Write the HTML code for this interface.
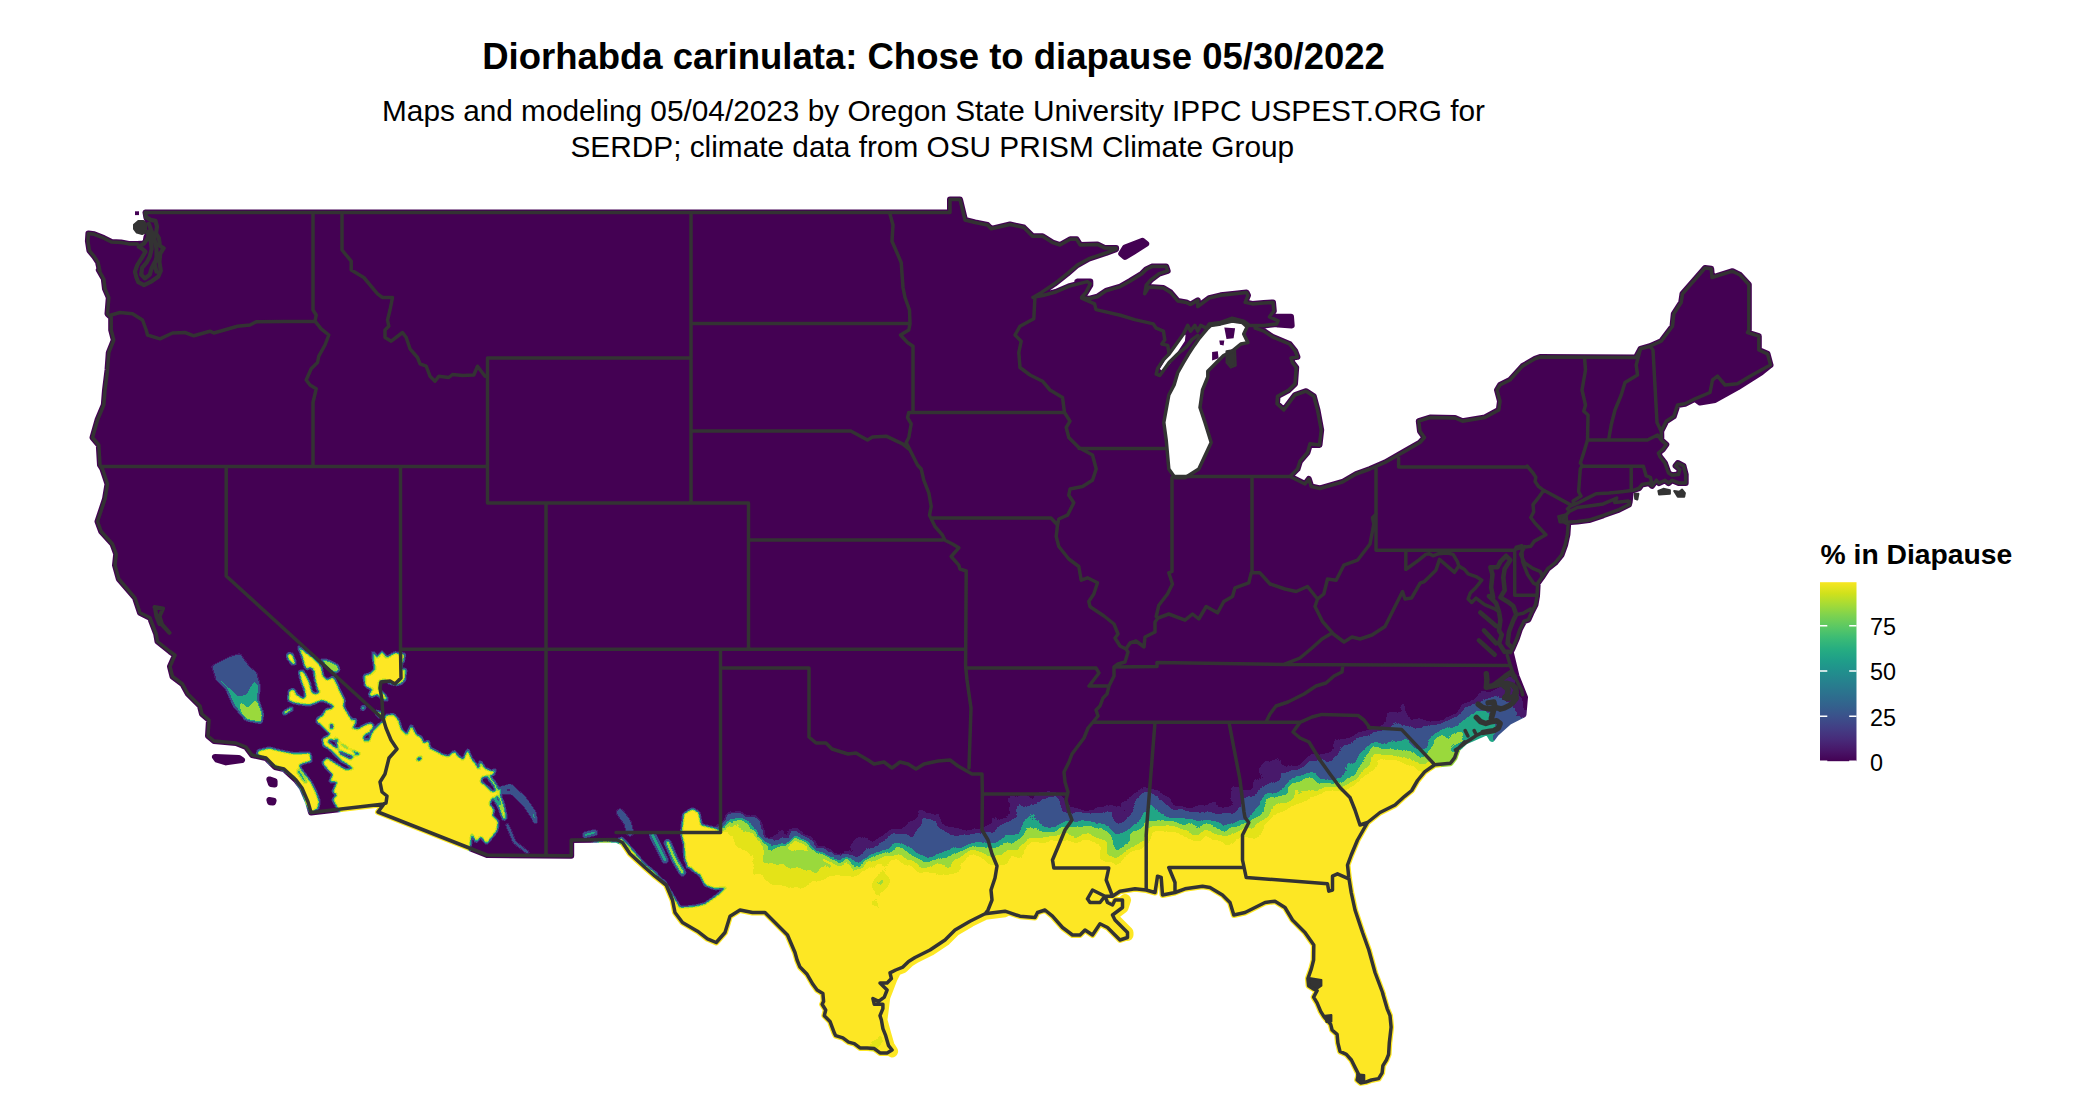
<!DOCTYPE html>
<html><head><meta charset="utf-8"><title>Diorhabda carinulata: Chose to diapause 05/30/2022</title>
<style>
html,body{margin:0;padding:0;background:#fff;}
body{width:2100px;height:1116px;overflow:hidden;font-family:"Liberation Sans",Arial,Helvetica,sans-serif;}
svg{display:block;}
text{font-family:"Liberation Sans",Arial,Helvetica,sans-serif;fill:#000;}
</style></head><body>
<svg width="2100" height="1116" viewBox="0 0 2100 1116">
<defs>
<filter id="cm" x="0" y="0" width="2100" height="1116" filterUnits="userSpaceOnUse" color-interpolation-filters="sRGB">
<feComponentTransfer><feFuncR type="discrete" tableValues="0.267 0.267 0.283 0.283 0.283 0.283 0.230 0.230 0.230 0.230 0.230 0.230 0.230 0.230 0.230 0.230 0.230 0.230 0.230 0.230 0.230 0.130 0.130 0.130 0.130 0.130 0.130 0.130 0.130 0.130 0.130 0.606 0.606 0.606 0.606 0.606 0.606 0.606 0.606 0.606 0.606 0.896 0.896 0.896 0.896 0.896 0.896 0.993 0.993 0.993"/><feFuncG type="discrete" tableValues="0.005 0.005 0.100 0.100 0.100 0.100 0.322 0.322 0.322 0.322 0.322 0.322 0.322 0.322 0.322 0.322 0.322 0.322 0.322 0.322 0.322 0.651 0.651 0.651 0.651 0.651 0.651 0.651 0.651 0.651 0.651 0.851 0.851 0.851 0.851 0.851 0.851 0.851 0.851 0.851 0.851 0.894 0.894 0.894 0.894 0.894 0.894 0.906 0.906 0.906"/><feFuncB type="discrete" tableValues="0.329 0.329 0.422 0.422 0.422 0.422 0.546 0.546 0.546 0.546 0.546 0.546 0.546 0.546 0.546 0.546 0.546 0.546 0.546 0.546 0.546 0.522 0.522 0.522 0.522 0.522 0.522 0.522 0.522 0.522 0.522 0.237 0.237 0.237 0.237 0.237 0.237 0.237 0.237 0.237 0.237 0.096 0.096 0.096 0.096 0.096 0.096 0.144 0.144 0.144"/></feComponentTransfer>
</filter>
<filter id="b1" x="0" y="0" width="2100" height="1116" filterUnits="userSpaceOnUse" color-interpolation-filters="sRGB">
<feGaussianBlur stdDeviation="14" result="b"/>
<feTurbulence type="fractalNoise" baseFrequency="0.022" numOctaves="3" seed="7" result="n"/>
<feDisplacementMap in="b" in2="n" scale="46" xChannelSelector="R" yChannelSelector="G"/>
</filter>
<filter id="b1w" x="0" y="0" width="2100" height="1116" filterUnits="userSpaceOnUse" color-interpolation-filters="sRGB">
<feGaussianBlur stdDeviation="5" result="b"/>
<feTurbulence type="fractalNoise" baseFrequency="0.03" numOctaves="3" seed="11" result="n"/>
<feDisplacementMap in="b" in2="n" scale="26" xChannelSelector="R" yChannelSelector="G"/>
</filter>
<filter id="b2" x="0" y="0" width="2100" height="1116" filterUnits="userSpaceOnUse" color-interpolation-filters="sRGB">
<feGaussianBlur stdDeviation="1.3"/>
</filter>
<filter id="b3" x="0" y="0" width="2100" height="1116" filterUnits="userSpaceOnUse" color-interpolation-filters="sRGB">
<feGaussianBlur stdDeviation="8"/>
</filter>
<mask id="m" maskUnits="userSpaceOnUse" x="0" y="0" width="2100" height="1116">
<path d="M145.5,212.5 L950,212.5 L950,199.5 L960,199.5 L965,220 L975,222.5 L987.5,225 L991.2,228.8 L1010,224.5 L1023.8,227.5 L1032.5,236.2 L1042.5,236.2 L1052.5,242.5 L1060,245 L1070.2,239.3 L1076.6,239.3 L1080.2,245.1 L1097.4,244.4 L1104.6,247.9 L1116.1,247.9 L1116.1,249.1 L1106,253 L1088.8,258.7 L1077.3,265.1 L1067.3,273.7 L1054.4,283.8 L1041.5,292.4 L1032.9,297.4 L1042.9,295.5 L1055.8,292 L1068.7,286.4 L1077.3,284.1 L1087.4,281.6 L1090.3,283.8 L1085.9,292.4 L1081.6,297.1 L1088.8,298.8 L1097.4,296.7 L1106,290.9 L1120.4,286.6 L1130.4,280.9 L1141.9,273.7 L1146.2,269.4 L1151.9,266.6 L1166.2,266.6 L1167.7,270.9 L1159.1,273.7 L1150.5,280.2 L1146.2,285.2 L1144.7,293.8 L1149,286.9 L1163.4,288.1 L1170.5,292.4 L1177.7,301 L1186.3,302.4 L1190.6,304.6 L1197.8,300.3 L1197.8,306.7 L1209.2,298.1 L1220.7,295.3 L1235.1,293.8 L1246.5,292.4 L1248,295.3 L1245.1,302.4 L1252.3,303.9 L1263.7,303.1 L1273,302.4 L1273.8,311 L1269.5,316.8 L1278.1,320.8 L1276.6,323.9 L1263.7,325.4 L1255.1,325.4 L1255.1,328.2 L1263.7,331.1 L1272.3,336.8 L1289.5,344 L1295.3,351.2 L1297.4,356.9 L1291,357.9 L1292.4,362.6 L1296.2,367.5 L1295,383.8 L1288.8,390 L1277.5,396.2 L1277,403.8 L1283.8,410 L1295,395 L1306.2,391.2 L1313.8,396.2 L1317.5,410 L1321.2,430 L1319.5,445 L1310,443.8 L1307.5,452.5 L1300,461.2 L1297.5,469 L1290,476.5 L1305,484 L1308.8,479 L1311.2,486.5 L1320,488.5 L1342.5,482 L1356.2,474 L1370,469 L1385,462.5 L1405,451.2 L1420,442.5 L1424.5,437.5 L1420,431.2 L1418.8,421.2 L1430,417.5 L1455,418 L1462.5,421.2 L1485,417.5 L1498.8,410 L1500,401.2 L1497,390 L1500,385 L1510,380 L1522.5,366.2 L1535,358.8 L1540,357 L1636,357.5 L1640.5,348.8 L1650,346.2 L1661.2,341.2 L1672.5,326.2 L1673.8,313.8 L1681.2,302.5 L1682.5,293.8 L1705,268 L1711.2,268.8 L1712,277.5 L1732.5,271.2 L1740,275 L1748.8,284.5 L1748.8,330 L1747.5,332.5 L1758.8,336.2 L1758.8,350 L1767.5,353.8 L1770.5,365 L1761.2,370 L1750,376.2 L1737.5,383.8 L1725,385 L1717.5,376.2 L1712.5,380 L1710,392.5 L1695,398.8 L1685,403.8 L1677.5,405 L1673.8,416.2 L1666.2,421.2 L1661.2,431.2 L1661.3,435.8 L1661.3,440.1 L1666.3,444.4 L1662.7,449.4 L1658.4,453 L1659.9,456.6 L1664.9,463 L1668.5,473 L1672,475.2 L1678.5,474.5 L1679.9,469.5 L1675.6,465.9 L1677.8,463 L1683.5,465.9 L1685.7,474.5 L1685.7,483.1 L1679.2,483.1 L1672,480.2 L1668.5,483.1 L1664.9,480.2 L1659.1,483.1 L1656.3,480.2 L1652,485.9 L1649.1,483.1 L1641.9,484.5 L1639.1,488.1 L1633.3,490.3 L1630.8,491.7 L1629.7,501.7 L1629,504.6 L1619,509.6 L1603.2,515.3 L1588.9,520.1 L1577.4,521.5 L1567.4,522.2 L1563.1,521.1 L1568.1,524.7 L1567.4,534.7 L1565.2,544.7 L1561.6,554.8 L1554.9,563 L1547.7,568.7 L1542,577.3 L1537.7,583.1 L1537,596 L1535.5,604.6 L1531.2,613.2 L1528.4,619.6 L1524.1,621.1 L1519.7,629.7 L1516.9,638.3 L1512.6,648.3 L1510.4,652.6 L1509.9,648.6 L1516.4,675.8 L1525,697.3 L1523.5,714.6 L1509.2,721.7 L1496.3,733.2 L1492,738.9 L1487.7,731.8 L1464.8,741.8 L1457.6,749 L1454.7,757.6 L1450.4,763.3 L1434.7,764.7 L1424.6,771.9 L1417.5,780.5 L1411.7,790.5 L1404.6,796.3 L1395,805 L1380,812.5 L1367.5,822.5 L1357.5,840 L1351.2,855 L1347.5,865 L1348.8,877.5 L1351.2,892.5 L1355,910 L1362.5,932.5 L1368.8,950 L1375,972.5 L1382.5,992.5 L1382.9,994.3 L1387.1,1008.6 L1390,1015.7 L1391.1,1027.1 L1389.3,1042.9 L1388.6,1054.3 L1386.4,1060 L1382.9,1065.7 L1382.1,1072.9 L1378.6,1078.6 L1371.4,1080 L1365.7,1082.1 L1360.7,1082.9 L1357.1,1080 L1358.6,1074.3 L1355.7,1068.6 L1351.4,1060 L1346.4,1054.3 L1340,1051.4 L1337.9,1042.9 L1337.1,1034.3 L1332.1,1030 L1330.7,1024.3 L1324.3,1017.1 L1320.7,1011.4 L1317.1,1002.9 L1313.6,997.1 L1317.1,990.7 L1312.9,988.6 L1308.6,985.7 L1307.9,978.6 L1311.4,968.6 L1313.6,960 L1313.8,945 L1305,932.5 L1292.5,920 L1285,907.5 L1275,901.2 L1265,902.5 L1255,907.5 L1245,912.5 L1233.8,915 L1230,902.5 L1222.5,895 L1210,887.5 L1202.5,886.2 L1185,888.8 L1175,892.5 L1162.5,895 L1161.2,877.5 L1157.5,876.2 L1155,892.5 L1146.2,890 L1135,888.8 L1120,891.2 L1112.5,896.2 L1105,896.2 L1107.5,902.5 L1112.5,905 L1115,900 L1122.5,900 L1122.5,907.5 L1112.5,915 L1115,920 L1127.5,932.5 L1127.5,937.5 L1120,940 L1115,935 L1107.5,927.5 L1100,923.8 L1092.5,935 L1085,930 L1080,935 L1072.5,935 L1062.5,927.5 L1052.5,916.2 L1045,910 L1037.5,912.5 L1035,917.5 L1020,916.2 L1005,911.2 L985,913.8 L970,921.2 L955,930 L945,940 L930,950 L915,957.5 L908.6,961.4 L902.9,967.1 L895.7,970 L890,972.9 L891.4,978.6 L887.1,982.9 L880,982.9 L887.1,990 L884.3,997.1 L878.6,1001.4 L872.9,998.6 L874.3,1004.3 L882.9,1004.3 L882.9,1008.6 L880,1015.7 L881.4,1020 L882.9,1028.6 L885.7,1035.7 L888.6,1045.7 L892.1,1050 L887.1,1052.9 L880,1052.9 L874.3,1048.6 L867.1,1047.9 L860,1047.9 L854.3,1043.6 L848.6,1042.1 L842.9,1037.9 L835.7,1035.7 L834.3,1032.9 L830,1021.4 L824.3,1015.7 L825.7,1010 L822.1,1004.3 L823.6,1001.4 L822.9,993.6 L817.1,990 L812.9,984.3 L807.1,974.3 L800,967.1 L797.1,960 L795,952.5 L787.5,935 L772.5,920 L765,912.5 L752.5,912.5 L740,910 L730,916.2 L725,932.5 L716.2,942.5 L707.5,938.8 L697.5,931.2 L682.5,922.5 L675,912.5 L672.5,900 L666.2,885 L655,876.2 L645,867.5 L630,853.8 L622.5,842.5 L616.2,839.5 L571.2,840 L571.2,855.8 L487,855 L378,812 L384,804 L311,812.5 L308,802 L302,788 L296,780 L284,769 L275,767 L266,758 L252,755 L246,747 L236,743 L214,741 L208,736 L209,720 L202,714 L200,706 L188,694 L182.5,684 L172.5,676.5 L170,666.5 L175,655.2 L170,651.5 L157.5,641.5 L156.2,634 L150,617.8 L140,612.8 L135,597.8 L118.8,579 L115,565.2 L116.2,554 L112.5,544 L101.2,531.5 L97.5,521.5 L105,499 L107.5,484 L102.5,469 L100,465 L98.8,445 L92.5,437.5 L97.5,420 L103.8,405 L105,390 L107.5,370 L108.8,352.5 L113.8,340 L111.2,330 L111.2,317.5 L107.5,313.8 L108.8,297.5 L105,288.8 L103.8,278.8 L98.8,270 L99.9,270.7 L98,262.1 L94.2,256.4 L89.4,250.6 L87.9,241 L88.4,233.4 L94.2,234.3 L103.8,238.1 L111.4,242 L121,242.5 L128.7,243.9 L137.3,243.9 L144,243.4 L145.8,241 L146.4,237.2 L148.3,233.4 L149,223.8 L146.4,217.5 L145.5,212.5ZM1121.2,253.8 L1125,247.5 L1142.5,240.8 L1146.2,243.8 L1132.5,252.5 L1125,257ZM1273.8,316.8 L1291,316.8 L1291.7,325.4 L1278.1,324.6 L1269.5,322.5ZM1077.3,281.6 L1090.3,281.6 L1090.3,285.2 L1085.9,292.4 L1080.2,292.4ZM215,757 L239,758 L242,760 L226,762.4 L217,759.6ZM269.4,779.4 L274.6,781 L274.6,784.6 L271,784ZM269.4,800 L273.6,800.6 L273,802.6 L270,802.2ZM1770.5,365 L1761.2,372.5 L1737.5,387.5 L1715,400 L1700,402.5 L1695,398.8 L1710,392.5 L1712.5,380 L1717.5,376.2 L1725,385 L1737.5,383.8 L1750,376.2Z" fill="#fff" stroke="#fff" stroke-width="6" stroke-linejoin="round"/><path d="M1005,911.2 L985,913.8 L970,921.2 L955,930 L945,940 L930,950 L915,957.5 L908.6,961.4 L902.9,967.1 L895.7,970 L891.4,978.6 L887.1,990 L884.3,997.1 L882.9,1008.6 L881.4,1020 L885.7,1035.7 L888.6,1045.7 L892.1,1051.4" fill="none" stroke="#fff" stroke-width="12" stroke-linejoin="round" stroke-linecap="round"/><path d="M1127.5,935 L1127.5,932.5 L1115,920 L1112.5,915 L1122.5,907.5 L1125,900" fill="none" stroke="#fff" stroke-width="12" stroke-linejoin="round" stroke-linecap="round"/>
<path d="M1199.2,338.3 L1194.2,345.4 L1188.5,354 L1183.4,362.6 L1177.7,372.7 L1174.1,385 L1168.8,395 L1163.8,422.5 L1166.2,440 L1168.8,469 L1175,477.8 L1185,477.8 L1198.8,469 L1211.2,442.5 L1205,422.5 L1200,407.5 L1202.5,390 L1207.8,377 L1207.8,371.2 L1212.1,366.9 L1217.8,361.2 L1223.6,355.5 L1232.2,351.2 L1240.8,344 L1248,342.6 L1243.7,334 L1247.2,326.8 L1242.2,322.5 L1232.2,321.1 L1220.7,323.9 L1210.7,325.4 L1207.8,328.2ZM1185.6,334.7 L1184.9,341.1 L1179.1,349.7 L1173.4,358.3 L1169.8,364.1 L1162.7,371.2 L1159.8,369.1 L1168.4,354.7 L1175.6,344.7 L1181.3,336.1Z" fill="#000"/>
<path d="M1224.3,327.5 L1235.1,328.2 L1233.6,338.3 L1226.5,339ZM1219.3,340.4 L1224.3,340.4 L1223.6,345.4 L1220,344.7ZM1212.1,351.9 L1217.8,351.2 L1218.6,358.3 L1212.1,360.5Z" fill="#fff"/>
</mask>
<linearGradient id="lg" x1="0" y1="1" x2="0" y2="0"><stop offset="0.0000" stop-color="#440154"/><stop offset="0.0625" stop-color="#481769"/><stop offset="0.1250" stop-color="#472c7a"/><stop offset="0.1875" stop-color="#423f85"/><stop offset="0.2500" stop-color="#3b518b"/><stop offset="0.3125" stop-color="#33628d"/><stop offset="0.3750" stop-color="#2c718e"/><stop offset="0.4375" stop-color="#27808e"/><stop offset="0.5000" stop-color="#218f8d"/><stop offset="0.5625" stop-color="#1f9e89"/><stop offset="0.6250" stop-color="#26ad81"/><stop offset="0.6875" stop-color="#3bbb75"/><stop offset="0.7500" stop-color="#5ac864"/><stop offset="0.8125" stop-color="#7cd250"/><stop offset="0.8750" stop-color="#a5db36"/><stop offset="0.9375" stop-color="#d0e11c"/><stop offset="1.0000" stop-color="#f8e621"/></linearGradient>
</defs>
<rect width="2100" height="1116" fill="#fff"/>
<g mask="url(#m)">
<g filter="url(#cm)">
<rect width="2100" height="1116" fill="#000"/>
<g filter="url(#b1)"><path d="M860,1150 L860,869 L868,859 L884,852 L896,848 L908,844 L920,840 L932,844 L946,850 L956,852 L968,846 L980,840 L988,844 L998,848 L1006,845 L1016,837 L1028,831 L1040,825 L1050,821 L1064,819 L1074,823 L1088,823 L1100,829 L1110,835 L1124,831 L1136,825 L1148,825 L1160,821 L1172,819 L1188,821 L1200,820 L1205,822.5 L1215,830 L1225,835 L1240,832.5 L1245,820 L1251,802 L1266,795 L1276,787 L1291,785 L1306,787 L1321,780 L1333,767 L1351,762 L1363,755 L1380,753 L1390,746 L1399,739 L1407,740 L1416,743 L1425,746 L1430,740 L1436,735 L1445,732 L1453,726 L1465,725 L1472,715 L1475,706 L1482,707 L1490,707 L1499,703 L1506,707 L1509,715 L1504,725 L1498,733 L1500,745 L1540,790 L1600,800 L1600,1150Z" fill="#fff"/></g>
<g filter="url(#b1w)"><path d="M600,1150 L600,836 L720,832 L730,820 L742.5,822.5 L755,831 L762.5,845 L775,849 L788,838 L800,838 L812,841 L822,851 L836,858 L850,857 L860,869 L868,859 L880,856 L880,1150Z" fill="#fff"/></g>
<g filter="url(#b1w)"><path d="M727.5,825.5 L755,835 L765,848.8 L795,848.8 L815,847.5 L827.5,861.2 L855,871.2 L866.2,875 L872.5,880 L830,877.5 L792.5,886.2 L772.5,881.2 L755,858.8 L735,842.5Z" fill="#000" fill-opacity="0.12"/><path d="M757.5,842.5 L765,851.2 L792.5,852.5 L812.5,851.2 L825,863.8 L847.5,870 L825,870 L795,865 L775,867.5 L762.5,857.5Z" fill="#000" fill-opacity="0.22"/></g>
<g filter="url(#b3)"><path d="M1430.4,743.2 L1444.7,731.8 L1459,726 L1473.4,707.4 L1487.7,697.3 L1509.2,697.3 L1530.7,704.5 L1530.7,740.4 L1459,769 L1439,769Z" fill="#000" fill-opacity="0.38"/></g>
<g filter="url(#b2)"><path d="M530,855.8 L530,710 L720,710 L720,810 L705,813.8 L702.5,833 L681.2,833 L683.8,842.5 L685,860 L692.5,870 L700,875 L705,885 L715,888.8 L726.2,887.5 L717.5,895 L705,903.8 L695,906.2 L680,907.5 L672.5,895 L665,882.5 L655,873.8 L642.5,862.5 L630,847.5 L623.8,841.2 L616.2,839.5 L571.2,840 L571.2,855.8Z" fill="#000000"/><path d="M681.2,832.5 L719.5,832.5 L732.5,842.5 L732.5,867.5 L687.5,867.5 L683.8,842.5Z" fill="#ffffff"/><path d="M681.2,833.8 L683.8,813.8 L692.5,808.8 L698.8,812.5 L701.2,825 L716.2,828.8 L719.5,833.8Z" fill="#ffffff"/><path d="M298,646.1 L305.7,652.6 L315.3,659.8 L321.2,666.9 L323,676.5 L327.2,680 L333.2,677.1 L336.7,683.6 L340.3,692 L344.5,700.3 L343.3,706.3 L347.5,713.4 L352.2,720.6 L355.8,718.8 L355.2,724.1 L352.2,728.3 L358.2,728.9 L365.3,724.7 L371.3,722.9 L373.7,726.5 L370.1,731.3 L366.5,737.2 L368.9,742 L371.3,733.7 L374.9,728.9 L379.6,724.1 L383.2,721.8 L386.2,715.2 L393.9,714.6 L398.7,720.6 L401.1,728.9 L407,734.9 L411.2,725.3 L416.6,734.9 L421.3,737.2 L423.7,743.2 L428.5,740.8 L429.7,748 L436.8,751.5 L442.8,755.1 L448.7,756.3 L454.7,750.9 L457.1,755.1 L463,759.9 L467.8,749.2 L471.4,758.7 L475,763 L479.1,769.9 L479.9,761 L485,768.4 L492.4,771.4 L495.4,768.4 L493.9,774.3 L482.1,777.3 L480.6,781.7 L486.5,786.2 L492.4,792.1 L501.3,789.1 L499.8,795 L492.4,798 L489.5,803.9 L493.9,809.8 L492.4,815.7 L498.3,821.6 L496.9,830.5 L492.4,836.4 L486.5,843.8 L480.6,836.4 L476.2,842.3 L471.7,833.5 L470.3,845.3 L468.8,852.7 L377.1,821.6 L340.2,812.8 L332.8,799.5 L337.2,795 L332.8,792.1 L337.2,781.7 L329.8,781.7 L332.8,774.3 L326.9,768.4 L322.4,762.5 L326.9,758.1 L338.7,765.5 L346.1,769.9 L353.5,768.4 L344.6,762.5 L337.2,756.6 L332.8,752.2 L341.6,755.1 L350.5,759.6 L356.4,753.7 L347.6,747.7 L338.7,741.8 L329.8,738.9 L326.9,743.3 L332.8,749.2 L323.9,746.3 L322.4,738.9 L328.3,735.9 L332.8,730 L342.7,763 L336.7,755.1 L329.6,749.2 L324.8,744.4 L328.4,742.6 L334.3,746.8 L341.5,751.5 L347.5,753.9 L353.4,756.3 L360.6,753.9 L353.4,750.4 L346.3,748 L341.5,744.4 L336.7,738.4 L332,734.9 L326,730.1 L320,724.1 L316.5,721.8 L317.7,718.2 L322.4,715.8 L326,709.8 L332,708.6 L334.3,706.3 L326,701.5 L321.2,700.3 L315.3,702.7 L309.3,705.1 L301,703.9 L293.8,702.7 L288.5,700.3 L289.1,690.8 L293.8,689 L296.2,694.3 L299.8,696.7 L303.4,699.1 L305.7,696.7 L304.6,689.6 L301,680 L299.2,671.7 L302.2,670.5 L305.7,675.3 L309.3,682.4 L311.7,692 L315.3,694.3 L320,692 L317.7,689.6 L315.3,680 L314.1,670.5 L310.5,666.9 L306.9,669.3 L304.6,665.7 L302.2,656.2Z" fill="#ffffff"/><path d="M287.3,653.8 L292,653.8 L295.6,663.4 L292.6,664.6 L287.9,658.6Z" fill="#ffffff"/><path d="M283.1,712.2 L291.4,707.5 L292.6,709.2 L284.3,714.6Z" fill="#ffffff"/><path d="M372.5,651.4 L377.2,657.4 L382,651.4 L386.8,657.4 L395.1,652.6 L399.3,653.8 L404.7,653.8 L403.5,661 L401.1,664.6 L401.7,669.3 L405.8,669.3 L404.7,680 L401.1,683.6 L396.3,684.8 L390.4,683.6 L384.4,680 L379.6,681.2 L379,689.6 L384.4,694.3 L388,700.3 L382,699.1 L377.2,694.3 L371.3,696.7 L368.9,694.3 L372.5,689.6 L365.3,686 L364.1,675.3 L370.1,674.1 L374.9,669.3 L373.7,661Z" fill="#f7f7f7"/><path d="M321.2,659.2 L329.6,661 L337.9,665.7 L339.1,670.5 L334.3,672.9 L329.6,669.3 L324.8,664.6Z" fill="#cccccc"/><path d="M361.8,706.3 L365.3,706.3 L364.1,709.8 L361.2,709.8Z" fill="#b2b2b2"/><path d="M374.9,711 L382,712.2 L382,718.2 L377.2,715.8Z" fill="#d9d9d9"/><path d="M258.1,750.7 L269.2,748 L279.6,750.7 L294.3,753.7 L309.9,752.9 L311.3,761 L303.2,763.3 L298.8,765.5 L304.7,774.3 L310.6,781.7 L315.8,792.1 L319.2,801 L318,808.3 L310.6,812.8 L305.4,803.9 L302.5,793.6 L294.3,777.3 L285.5,771.4 L278.1,767 L269.2,763.3 L266.3,758.1 L257.4,755.1Z" fill="#ffffff"/><path d="M298.8,768.4 L301.7,772.9 L306.9,781.7 L305.4,784 L300.3,777.3 L296.6,771.4Z" fill="#808080"/><path d="M212,666 L230,657 L240,654 L250,668 L256,672 L260,686 L258,700 L263,714 L261,723 L246,720 L234,706 L226,688 L216,678Z" fill="#383838"/><path d="M215,678 L222,680 L230,688 L238,696 L246,694 L254,680 L259,686 L258,700 L263,714 L261,723 L246,720 L234,706 L226,688Z" fill="#808080"/><path d="M224,670 L240,660 L248,670 L250,684 L244,692 L236,688 L230,680Z" fill="#383838"/><path d="M240,702 L248,708 L256,700 L260,708 L262.4,716 L261,722.4 L247,719.6 L241,712Z" fill="#c7c7c7"/><path d="M417,758.1 L421.5,756.6 L421.5,759.6 L417,761Z" fill="#000000"/><path d="M362.9,737.2 L367.7,732.5 L368.9,734.9 L365.3,742Z" fill="#000000"/><path d="M329.6,724.1 L333.2,724.1 L333.2,728.9 L330.2,728.9Z" fill="#000000"/><path d="M493.9,796.5 L499.8,806.9 L504.2,818.7" fill="none" stroke="#e6e6e6" stroke-width="2.2" stroke-linecap="round" stroke-linejoin="round"/><path d="M499.8,789.1 L510.2,786.2 L523.5,798 L533.8,812.8 L535.3,821.6" fill="none" stroke="#808080" stroke-width="2.6" stroke-linecap="round" stroke-linejoin="round"/><path d="M507.2,824.6 L514.6,842.3 L527.9,852.7" fill="none" stroke="#4c4c4c" stroke-width="2" stroke-linecap="round" stroke-linejoin="round"/><path d="M652.5,835 L658.8,847.5 L665,860" fill="none" stroke="#808080" stroke-width="5" stroke-linecap="round" stroke-linejoin="round"/><path d="M667.5,842.5 L675,860 L682.5,872.5" fill="none" stroke="#b2b2b2" stroke-width="5" stroke-linecap="round" stroke-linejoin="round"/><path d="M620,812.5 L627.5,822.5 L630,832.5" fill="none" stroke="#4c4c4c" stroke-width="6" stroke-linecap="round" stroke-linejoin="round"/><path d="M585,835 L595,832.5" fill="none" stroke="#808080" stroke-width="4" stroke-linecap="round" stroke-linejoin="round"/><path d="M621.2,840 L630,850 L642.5,865 L655,875" fill="none" stroke="#e6e6e6" stroke-width="4" stroke-linecap="round" stroke-linejoin="round"/><path d="M500,792.5 L512.5,792.5 L525,805 L535,820" fill="none" stroke="#808080" stroke-width="2" stroke-linecap="round" stroke-linejoin="round"/><path d="M487.5,775 L495,785 L502.5,805 L505,817.5" fill="none" stroke="#e6e6e6" stroke-width="2.5" stroke-linecap="round" stroke-linejoin="round"/></g>
</g>
</g>
<rect x="135" y="211.3" width="4" height="3.8" fill="#440154"/>
<path d="M1226.5,351.2 L1235.1,349.7 L1235.8,365.5 L1230.8,367.7 L1226.5,362.6ZM134,224.7 L138.3,221.1 L143.6,221.1 L146.4,224.2 L145.8,232.4 L142.1,234.1 L136.8,232.6 L134,229ZM1558.1,516.1 L1566.7,513.9 L1567.4,522.5 L1559.5,522.5ZM1658.4,491 L1663.4,488.8 L1669.9,490.3 L1669.9,493.8 L1659.1,494.6ZM1674.2,491 L1679.2,491.7 L1682.1,489.5 L1684.9,493.1 L1684.2,496.7 L1677.8,496.7ZM1634.8,493.8 L1638.4,493.8 L1637.3,499.6 L1635.2,498.9ZM1309.3,977.9 L1321.4,980 L1321.4,985.7 L1316.4,989.3 L1310,986.4ZM1325,1015.7 L1331.4,1015 L1331.4,1021.4 L1326.4,1022.1ZM1357.1,1074.3 L1364.3,1075 L1364.3,1081.4 L1358.6,1082.1Z" fill="#333" stroke="#333" stroke-width="2" stroke-linejoin="round"/>
<path d="M1199.2,338.3 L1194.2,345.4 L1188.5,354 L1183.4,362.6 L1177.7,372.7 L1174.1,385 L1168.8,395 L1163.8,422.5 L1166.2,440 L1168.8,469 L1175,477.8 L1185,477.8 L1198.8,469 L1211.2,442.5 L1205,422.5 L1200,407.5 L1202.5,390 L1207.8,377 L1207.8,371.2 L1212.1,366.9 L1217.8,361.2 L1223.6,355.5 L1232.2,351.2 L1240.8,344 L1248,342.6 L1243.7,334 L1247.2,326.8 L1242.2,322.5 L1232.2,321.1 L1220.7,323.9 L1210.7,325.4 L1207.8,328.2Z" fill="none" stroke="#333" stroke-width="3.5" stroke-linejoin="round"/>
<path d="M1486.3,673.7 L1486.9,679.6 L1486.3,687.2 L1493,685.8 L1500.2,680.5 L1505.6,676 L1510.9,672.4 L1514.5,676.9M1493,685.8 L1500.2,684.2 L1507.3,683.3 L1512.7,685.1 L1515.9,688.5 L1516.3,693 L1512.7,697 L1507.3,698.6 L1504.7,697.5 L1507.3,694.8 L1508.2,689.4 L1503.8,685.8M1515,693 L1516.3,698.4 L1512.7,702.9 L1509.1,705.6 L1503.8,708.2 L1500.2,709.1M1478.2,704.2 L1482.3,707.3 L1489.4,709.1 L1494.8,707.3 L1500.2,708.7M1488.1,702.9 L1493.9,702 L1494.8,706 L1493.9,708.2 L1493,712.7 L1491.4,718.1M1476.4,717.4 L1480.5,721.7 L1485.8,723.5 L1491.2,721.7 L1496.6,720.8 L1500.2,723.5 L1498.4,728 L1493.9,730.6 L1488.5,731.5 L1483.2,732.4" fill="none" stroke="#333" stroke-width="5.5" stroke-linejoin="round" stroke-linecap="round"/>
<path d="M1490.4,567.3 L1492.5,574.5 L1491.1,587.4 L1493.2,597.4 L1488.9,596 L1496.1,603.2 L1499,611.8 L1500.4,620.4 L1499,630.4 L1501.8,634.7 L1499,643.3 L1504.7,651.9 L1509,651.9M1480.3,612.5 L1496.1,626.1M1483.9,630.4 L1496.1,643.3M1478.9,640.4 L1494.7,654.8M1511.9,647.6 L1507.6,643.3 L1509,631.8 L1513.3,620.4 L1516.2,614.6 L1513.3,606 L1507.6,601.7 L1500.4,597.4 L1504.7,590.3 L1503.3,577.3 L1504.7,568.7 L1510.4,560.1 L1506.1,555.8 L1500.4,561.6 L1497.5,567.3 L1490.4,567.3" fill="none" stroke="#333" stroke-width="4.6" stroke-linejoin="round" stroke-linecap="round"/>
<path d="M154.5,607 L163,608.5 L159.5,616.5 L162,624.5 L169.5,632.8M155,608 L156.5,616.5 L159.5,624M145.5,212.5 L145.9,217.1 L150.7,219.9 L155.5,220.9 L157,226.6 L156,233.4 L158.9,238.1 L159.9,245.8 L163.7,248.2 L160.3,253.5 L159.4,262.1 L160.8,270.7 L158.4,276.5 L151.7,281.3 L144,285.1 L138.3,282.2 L136.4,277.5 L134.9,271.7 L137.3,265 L142.1,257.3 L145.5,251.6 L142.1,248.7 L138.8,246.8 L144,243.4M148.8,223.8 L151.7,231.4 L154.6,240.1 L156.5,248.7 L156.5,257.3 L154.6,264 L156.5,271.7M147.9,233.4 L150.7,241 L151.7,248.7 L149.8,256.4 L146.9,262.1 L142.1,267.9 L141.2,274.6 L145,278.4 L149.8,274.6 L151.7,267.9 L154.6,262.1M144,243.4 L147.9,238.1 L148.8,231.4" fill="none" stroke="#333" stroke-width="4.2" stroke-linejoin="round" stroke-linecap="round"/>
<path d="M145.5,212.5 L950,212.5 L950,199.5 L960,199.5 L965,220 L975,222.5 L987.5,225 L991.2,228.8 L1010,224.5 L1023.8,227.5 L1032.5,236.2 L1042.5,236.2 L1052.5,242.5 L1060,245 L1070.2,239.3 L1076.6,239.3 L1080.2,245.1 L1097.4,244.4 L1104.6,247.9 L1116.1,247.9 L1116.1,249.1 L1106,253 L1088.8,258.7 L1077.3,265.1 L1067.3,273.7 L1054.4,283.8 L1041.5,292.4 L1032.9,297.4 L1042.9,295.5 L1055.8,292 L1068.7,286.4 L1077.3,284.1 L1087.4,281.6 L1090.3,283.8 L1085.9,292.4 L1081.6,297.1 L1088.8,298.8 L1097.4,296.7 L1106,290.9 L1120.4,286.6 L1130.4,280.9 L1141.9,273.7 L1146.2,269.4 L1151.9,266.6 L1166.2,266.6 L1167.7,270.9 L1159.1,273.7 L1150.5,280.2 L1146.2,285.2 L1144.7,293.8 L1149,286.9 L1163.4,288.1 L1170.5,292.4 L1177.7,301 L1186.3,302.4 L1190.6,304.6 L1197.8,300.3 L1197.8,306.7 L1209.2,298.1 L1220.7,295.3 L1235.1,293.8 L1246.5,292.4 L1248,295.3 L1245.1,302.4 L1252.3,303.9 L1263.7,303.1 L1273,302.4 L1273.8,311 L1269.5,316.8 L1278.1,320.8 L1276.6,323.9 L1263.7,325.4 L1255.1,325.4 L1255.1,328.2 L1263.7,331.1 L1272.3,336.8 L1289.5,344 L1295.3,351.2 L1297.4,356.9 L1291,357.9 L1292.4,362.6 L1296.2,367.5 L1295,383.8 L1288.8,390 L1277.5,396.2 L1277,403.8 L1283.8,410 L1295,395 L1306.2,391.2 L1313.8,396.2 L1317.5,410 L1321.2,430 L1319.5,445 L1310,443.8 L1307.5,452.5 L1300,461.2 L1297.5,469 L1290,476.5 L1305,484 L1308.8,479 L1311.2,486.5 L1320,488.5 L1342.5,482 L1356.2,474 L1370,469 L1385,462.5 L1405,451.2 L1420,442.5 L1424.5,437.5 L1420,431.2 L1418.8,421.2 L1430,417.5 L1455,418 L1462.5,421.2 L1485,417.5 L1498.8,410 L1500,401.2 L1497,390 L1500,385 L1510,380 L1522.5,366.2 L1535,358.8 L1540,357 L1636,357.5 L1640.5,348.8 L1650,346.2 L1661.2,341.2 L1672.5,326.2 L1673.8,313.8 L1681.2,302.5 L1682.5,293.8 L1705,268 L1711.2,268.8 L1712,277.5 L1732.5,271.2 L1740,275 L1748.8,284.5 L1748.8,330 L1747.5,332.5 L1758.8,336.2 L1758.8,350 L1767.5,353.8 L1770.5,365 L1761.2,370 L1750,376.2 L1737.5,383.8 L1725,385 L1717.5,376.2 L1712.5,380 L1710,392.5 L1695,398.8 L1685,403.8 L1677.5,405 L1673.8,416.2 L1666.2,421.2 L1661.2,431.2 L1661.3,435.8 L1661.3,440.1 L1666.3,444.4 L1662.7,449.4 L1658.4,453 L1659.9,456.6 L1664.9,463 L1668.5,473 L1672,475.2 L1678.5,474.5 L1679.9,469.5 L1675.6,465.9 L1677.8,463 L1683.5,465.9 L1685.7,474.5 L1685.7,483.1 L1679.2,483.1 L1672,480.2 L1668.5,483.1 L1664.9,480.2 L1659.1,483.1 L1656.3,480.2 L1652,485.9 L1649.1,483.1 L1641.9,484.5 L1639.1,488.1 L1633.3,490.3M1629.7,501.7 L1629,504.6 L1619,509.6 L1603.2,515.3 L1588.9,520.1 L1577.4,521.5 L1567.4,522.2 L1563.1,521.1 L1568.1,524.7 L1567.4,534.7 L1565.2,544.7 L1561.6,554.8 L1554.9,563 L1547.7,568.7 L1542,577.3 L1537.7,583.1 L1537,596 L1535.5,604.6 L1531.2,613.2 L1528.4,619.6 L1524.1,621.1 L1519.7,629.7 L1516.9,638.3 L1512.6,648.3 L1510.4,652.6M1464.8,741.8 L1457.6,749 L1454.7,757.6 L1450.4,763.3 L1434.7,764.7 L1424.6,771.9 L1417.5,780.5 L1411.7,790.5 L1404.6,796.3 L1395,805 L1380,812.5 L1367.5,822.5 L1357.5,840 L1351.2,855 L1347.5,865 L1348.8,877.5 L1351.2,892.5 L1355,910 L1362.5,932.5 L1368.8,950 L1375,972.5 L1382.5,992.5 L1382.9,994.3 L1387.1,1008.6 L1390,1015.7 L1391.1,1027.1 L1389.3,1042.9 L1388.6,1054.3 L1386.4,1060 L1382.9,1065.7 L1382.1,1072.9 L1378.6,1078.6 L1371.4,1080 L1365.7,1082.1 L1360.7,1082.9 L1357.1,1080 L1358.6,1074.3 L1355.7,1068.6 L1351.4,1060 L1346.4,1054.3 L1340,1051.4 L1337.9,1042.9 L1337.1,1034.3 L1332.1,1030 L1330.7,1024.3 L1324.3,1017.1 L1320.7,1011.4 L1317.1,1002.9 L1313.6,997.1 L1317.1,990.7 L1312.9,988.6 L1308.6,985.7 L1307.9,978.6 L1311.4,968.6 L1313.6,960 L1313.8,945 L1305,932.5 L1292.5,920 L1285,907.5 L1275,901.2 L1265,902.5 L1255,907.5 L1245,912.5 L1233.8,915 L1230,902.5 L1222.5,895 L1210,887.5 L1202.5,886.2 L1185,888.8 L1175,892.5 L1162.5,895 L1161.2,877.5 L1157.5,876.2 L1155,892.5 L1146.2,890 L1135,888.8 L1120,891.2 L1112.5,896.2 L1105,896.2 L1107.5,902.5 L1112.5,905 L1115,900 L1122.5,900 L1122.5,907.5 L1112.5,915 L1115,920 L1127.5,932.5 L1127.5,937.5 L1120,940 L1115,935 L1107.5,927.5 L1100,923.8 L1092.5,935 L1085,930 L1080,935 L1072.5,935 L1062.5,927.5 L1052.5,916.2 L1045,910 L1037.5,912.5 L1035,917.5 L1020,916.2 L1005,911.2 L985,913.8 L970,921.2 L955,930 L945,940 L930,950 L915,957.5 L908.6,961.4 L902.9,967.1 L895.7,970 L890,972.9 L891.4,978.6 L887.1,982.9 L880,982.9 L887.1,990 L884.3,997.1 L878.6,1001.4 L872.9,998.6 L874.3,1004.3 L882.9,1004.3 L882.9,1008.6 L880,1015.7 L881.4,1020 L882.9,1028.6 L885.7,1035.7 L888.6,1045.7 L892.1,1050 L887.1,1052.9 L880,1052.9 L874.3,1048.6 L867.1,1047.9 L860,1047.9 L854.3,1043.6 L848.6,1042.1 L842.9,1037.9 L835.7,1035.7 L834.3,1032.9 L830,1021.4 L824.3,1015.7 L825.7,1010 L822.1,1004.3 L823.6,1001.4 L822.9,993.6 L817.1,990 L812.9,984.3 L807.1,974.3 L800,967.1 L797.1,960 L795,952.5 L787.5,935 L772.5,920 L765,912.5 L752.5,912.5 L740,910 L730,916.2 L725,932.5 L716.2,942.5 L707.5,938.8 L697.5,931.2 L682.5,922.5 L675,912.5 L672.5,900 L666.2,885 L655,876.2 L645,867.5 L630,853.8 L622.5,842.5 L616.2,839.5 L571.2,840 L571.2,855.8 L487,855 L378,812 L384,804 L311,812.5 L308,802 L302,788 L296,780 L284,769 L275,767 L266,758 L252,755 L246,747 L236,743 L214,741 L208,736 L209,720 L202,714 L200,706 L188,694 L182.5,684 L172.5,676.5 L170,666.5 L175,655.2 L170,651.5 L157.5,641.5 L156.2,634 L150,617.8 L140,612.8 L135,597.8 L118.8,579 L115,565.2 L116.2,554 L112.5,544 L101.2,531.5 L97.5,521.5 L105,499 L107.5,484 L102.5,469 L100,465 L98.8,445 L92.5,437.5 L97.5,420 L103.8,405 L105,390 L107.5,370 L108.8,352.5 L113.8,340 L111.2,330 L111.2,317.5 L107.5,313.8 L108.8,297.5 L105,288.8 L103.8,278.8 L98.8,270 L99.9,270.7 L98,262.1 L94.2,256.4 L89.4,250.6 L87.9,241 L88.4,233.4 L94.2,234.3 L103.8,238.1 L111.4,242 L121,242.5 L128.7,243.9 L137.3,243.9M313,212.5 L313,310 L316.2,315 L315,321.2M111.2,315 L120,312.5 L132.5,313.8 L142.5,320 L146.2,330 L147.5,335 L160,338.8 L172.5,333 L185,332.5 L193.8,335.8 L210,331.2 L213.8,333 L237.5,326.2 L250,325 L256.2,321.8 L315,321.2M315,321.2 L321.2,328.8 L328.8,335 L325,345 L318.8,356.2 L317.5,362.5 L311.2,368.8 L306.2,380 L310,385 L316.2,388.8 L313,402.5 L313,466.5M101,466.5 L487.5,466.5M342,212.5 L342,250 L351.2,261.2 L351.2,270 L363.8,277.5 L377.5,293.8 L382.5,297.5 L392.5,297.5 L390,310 L387.5,320 L388.8,326.2 L385,330 L385,337.5 L391.2,341.2 L402.5,332.5 L406.2,337.5 L410,348.8 L417.5,357.5 L420,363.8 L426.2,366.2 L430,376.2 L435,381.2 L438.8,376.2 L448.8,377.5 L452.5,374.5 L462.5,375.5 L473.8,375 L477.5,366.2 L485,376.2 L487.5,377M487.5,358 L487.5,503M487.5,358 L691,358M691,212.5 L691,503M487.5,503 L748.5,503M546,503 L546,855M400.5,649.3 L965.5,649.3M400.5,466.5 L400.5,649.3 L401,678 L395,684 L390,681 L381,682 L380,688 L382,700 L383,718M226.2,466.5 L226.2,576 L383,719M383,718 L386,728 L391,740 L397,749 L389,758 L385,774 L380,782 L382,792 L387,796 L386,803 L384,803.6M691,323.5 L910,323.5M691,431 L851,431 L851.2,431.2 L867.5,440 L872.5,437 L886.2,436.2 L902.5,443.8 L910,450M748.5,540 L942.5,540M748.5,503 L748.5,649.3M720.5,649.3 L720.5,832.5M720.5,668 L809,668 L809,737 L809,737 L816,743 L826,743 L832,749 L848,754 L856,753 L868,760 L874,764 L884,762 L892,768 L900,762 L908,764 L916,769 L924,764 L938,761 L950,760 L958,766 L972,774 L982,774M616,832.5 L720.5,832.5M889.5,212.5 L893,225 L892,241.2 L901.2,262.5 L903,287.5 L905,297.5 L909.5,310 L910,323.8M910,323.8 L908.8,330 L900.5,335 L907.5,342.5 L913,346.2 L913,412.5M910,412.5 L1064.5,412.5M908.8,412.5 L907.5,417.5 L911.2,423.8 L908.8,437.5 L906.2,442.5 L910,450 L917.5,465 L921.2,469 L923.8,480.2 L928.8,492.8 L931.2,506.5 L929.5,515.2 L935,526.5 L942.5,535.2 L945,540.2 L952.5,544 L958.8,547.8 L951.2,556.5 L958.8,565.2 L960,569 L966.2,571M966.2,571 L965.6,666 L967,680 L971,708 L969,768M982,774 L982.4,794 L982,830 L988,840 L992,854 L997,866 L995,878 L991,890 L992,900 L988,910 L985,914M931,518 L1051,518 L1057.5,525M965.5,668 L1096,668M1096,668 L1099,673 L1089,686 L1108,686M982.5,794 L1066,794M1035,296.2 L1033.8,318.8 L1020,326.2 L1015,335 L1021.2,341.2 L1018.8,352.5 L1020,367.5 L1030,375 L1042.5,381.2 L1050,390 L1062.5,397.5 L1064.5,412.5 L1070,421.2 L1066.2,427.5 L1068.8,437.5 L1078.8,447.5 L1092.5,455 L1096.2,469 L1092.5,480.2 L1082.5,486.5 L1070,489 L1068.8,495.2 L1073.8,502.8 L1067.5,515.2 L1058.8,519 L1057.5,525.2 L1056.2,536.5 L1058.8,546.5 L1068.8,559 L1078.8,566.5 L1081.2,580.2 L1087.5,577.8 L1097.5,582.8 L1093.8,594 L1088.8,601.5 L1090,606.5 L1092,608 L1104,616 L1114,624 L1118,634 L1115,638 L1120,646 L1126,649 L1128,652 L1125,662 L1118,664 L1114,667 L1114,676 L1109,686 L1107,694 L1103,698 L1100,706 L1096,710 L1098,716 L1093,722 L1088,728 L1084,738 L1078,746 L1072,754 L1069,762 L1064,772 L1065,782 L1068,792 L1066,800 L1069,812 L1072,820 L1065,830 L1058.8,845 L1052.5,860 L1053.8,868M1053.8,868 L1108.8,868 L1106.2,880 L1112.5,896.2M1079,448.5 L1166,448.5M1126,649 L1130,643 L1136,641 L1144,647 L1145,637 L1155,632 L1155,622 L1158,618 L1168.8,614 L1185,620.2 L1192.5,614 L1198.8,619 L1206.2,606.5 L1217.5,612.8 L1223.8,601.5 L1232.5,596.5 L1235,587.8 L1248.8,582.8 L1251.2,572.8 L1260,572.8 L1270,584 L1285,589 L1296.2,591.5 L1307.5,586.5 L1317.5,599 L1323.8,594 L1327.5,579 L1336.2,580.2 L1343.8,565.2 L1357.5,560.2 L1370,544 L1373.8,524 L1372.5,517.8 L1376.2,514M1172,477.5 L1172,571.5 L1168.8,572.8 L1172.5,584 L1167.5,594 L1158.8,605.2 L1156.2,616.5M1252,476.5 L1252,572.8M1175,476.5 L1290,476.5M1376,468 L1376,550.3 L1515,550.3M1398.6,457 L1398.6,467 L1527,467M1114,667 L1157,666.4 L1157,662.4 L1284,664.4 L1510,665.5M1284,664.4 L1300,658 L1312,648 L1322,639 L1332,633M1317.5,599 L1315,606.5 L1322.5,621.5 L1332.5,632.8M1332,633 L1344,642 L1352,637 L1360,639 L1372,635 L1385,626.5 L1397.5,601.5 L1402.5,591.5 L1405,599 L1411.5,598.1 L1420.1,583.1 L1424.4,581.6 L1435.9,570.2 L1439.5,559.4 L1454.5,572.3 L1458.8,565.9M1343,664.4 L1342,672 L1334,676 L1326,683 L1316,686 L1304,694 L1288,702 L1276,706 L1270,714 L1266,722M1093,722.3 L1300,722.3M1155,722.4 L1152,760 L1147,823 L1146.2,835 L1146.2,890M1229,722.4 L1240,780 L1244,812 L1245,817.5 L1248.8,822.5 L1242.5,835 L1242.5,860 L1246.2,877.5M1300,722.4 L1312,717 L1322,714.4 L1358,715.4 L1364,720 L1370,728 L1368.7,727.5 L1401.7,729.6 L1434.7,764.7M1300,722.4 L1293,732 L1300,738 L1309,742 L1320,760 L1330,774 L1340,787.5 L1350,797.5 L1355,810 L1360,825 L1367.5,822.5M1168.8,867.5 L1242.5,867.5M1168.8,867.5 L1175,882.5 L1175,892.5M1246.2,877.5 L1327.5,883.8 L1328.8,891.2 L1332.5,890 L1332.5,876.2 L1337.5,873.8 L1348.8,878.8M1405.8,550.4 L1405.8,569.5 L1418.7,560.1 L1425.8,554.4 L1429.4,553.7 L1433,555.8 L1438.7,553.7 L1447.3,553 L1453.1,554.4 L1457.4,561.6 L1458.8,565.9 L1464.6,569.5 L1468.1,573.8 L1476,576.6 L1481.8,580.2 L1476,587.4 L1470.3,593.1 L1468.1,598.9 L1471.7,602.4 L1476,598.1 L1484.6,604.6 L1494.7,608.9 L1499,611.8M1516.2,614.6 L1523.3,613.2 L1530.5,608.9M1521.9,545.8 L1516.2,547.2 L1514.7,550.4 L1514.7,595.3 L1534.8,595.3M1527.2,466.2 L1533,473 L1535.8,477.3 L1535.1,481.6 L1538.7,486.7 L1543.7,490.3 L1538.7,497.4 L1533,504.6 L1533.7,511.8 L1530.8,517.5 L1535.1,523.2 L1545.9,534.7 L1534.4,541.1 L1530.8,546.2 L1521.5,547.6 L1515.8,549M1524.8,546.5 L1520.5,554.4 L1524.8,563 L1533.4,568.7 L1540.5,571.6 L1542,575.9M1521.9,550.8 L1522.6,561.6 L1527.6,574.5 L1533.4,583.1 L1536.2,584.5M1543.7,490.3 L1570.3,504.6M1584.5,357 L1585.5,370 L1582,390 L1585.5,405 L1583.8,411.2 L1588,415 L1587.5,440 L1583.2,454.4 L1580.3,463 L1582.4,465.9 L1580.3,468.7 L1578.6,491.7 L1581,496 L1573.1,501 L1573.8,504.6 L1570.3,506 L1567.4,508.9M1640.5,348.8 L1636.2,365 L1637.5,375 L1625,382.5 L1621.2,395 L1615,410 L1611.2,425 L1608.8,438.8M1650,346.2 L1653,350 L1657,422.5 L1661.2,431.2M1587.5,440 L1647.5,440 L1657.5,435 L1661.2,440M1582.4,466.2 L1643.4,466.2 L1646.2,475.9 L1650.5,477.3 L1652,484.5M1631.2,466.2 L1631.2,490.3M1633.3,490.3 L1621.9,491.7 L1609,493.1 L1596.1,493.8 L1586,498.9 L1577.4,503.2 L1570.3,506M1563.1,518.9 L1568.8,511.8 L1577.4,507.5 L1588.9,506 L1603.2,503.9 L1616.8,498.1 L1614.7,502.4 L1628.3,501 L1629.7,504.6M1081.6,298.1 L1094.6,303.9 L1096,309.6 L1120.4,315.3 L1134.7,319.6 L1153.3,323.9 L1156.2,328.2 L1163.4,331.1 L1164.8,339.7 L1161.9,344 L1167.7,345.4 L1169.1,354M1169.1,354 L1163.4,359.8 L1157.6,368.4 L1156.2,374.1 L1159.8,375.5 L1169.1,362.6 L1177.7,354 L1186.3,346.9 L1192,339.7 L1197.8,335.4M1169.1,354 L1176.3,344 L1183.4,334 L1187.7,325.4 L1190.6,331.1 L1194.9,325.4 L1197.8,331.1 L1200.6,325.4 L1206.4,328.2 L1209.2,323.9 L1220.7,322.5 L1232.2,318.2 L1243.7,321.1 L1249.4,325.4 L1255.1,325.4M1507.3,655.4 L1510,664.3 L1512.7,672.4 L1518.1,683.2 L1521.7,690.3 L1522.6,694.8M1483.2,732.4 L1476.9,735.1 L1471.5,738.7 L1466.1,742.3 L1459,747.7 L1455.4,750M1465.2,730.6 L1467.9,736M1474.2,730.6 L1476,734.2M1087.5,898.8 L1092.5,890 L1105,896.2 L1100,902.5 L1090,902.5 L1087.5,898.8" fill="none" stroke="#333" stroke-width="3.5" stroke-linejoin="round" stroke-linecap="round"/>
<text x="933.5" y="69" text-anchor="middle" font-size="36.5" font-weight="bold">Diorhabda carinulata: Chose to diapause 05/30/2022</text>
<text x="933.5" y="120.7" text-anchor="middle" font-size="29.8">Maps and modeling 05/04/2023 by Oregon State University IPPC USPEST.ORG for</text>
<text x="932.3" y="156.9" text-anchor="middle" font-size="29.8">SERDP; climate data from OSU PRISM Climate Group</text>
<text x="1820.5" y="564.3" font-size="28.3" font-weight="bold">% in Diapause</text>
<rect x="1820" y="582.2" width="36.5" height="179" fill="url(#lg)"/>
<g stroke="#fff" stroke-width="1.5">
<path d="M1820,625.7h7.3M1849.2,625.7h7.3M1820,671h7.3M1849.2,671h7.3M1820,716.2h7.3M1849.2,716.2h7.3M1820,761.2h7.3M1849.2,761.2h7.3"/>
</g>
<g font-size="23.4">
<text x="1870" y="635">75</text>
<text x="1870" y="680.3">50</text>
<text x="1870" y="725.5">25</text>
<text x="1870" y="770.5">0</text>
</g>
</svg>
</body></html>
